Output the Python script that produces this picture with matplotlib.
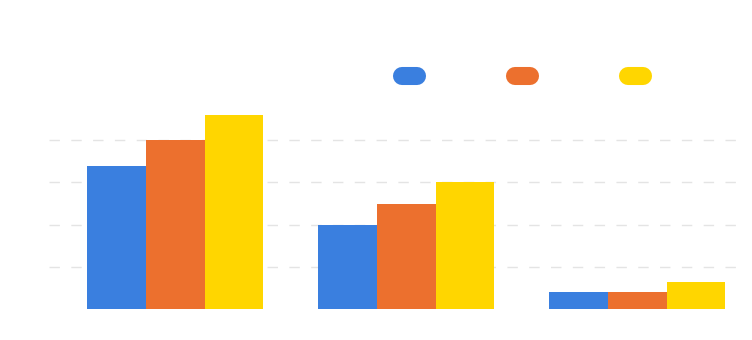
import matplotlib.pyplot as plt
from matplotlib.lines import Line2D
import numpy as np

# data
groups = ["A", "B", "C"]
series_names = ["Series 1", "Series 2", "Series 3"]
series_1 = [34, 20, 4]
series_2 = [40, 25, 4]
series_3 = [46, 30, 6.3]
colors = ["#3a7fdf", "#ec702e", "#ffd600"]
grid_values = [10, 20, 30, 40]

fig = plt.figure(figsize=(7.52, 3.40), dpi=100)
ax = fig.add_axes([49 / 752, 1 - 309 / 340, 692 / 752, 211 / 340])

x = np.arange(len(groups))
width = 0.255
for i, (vals, col) in enumerate(zip([series_1, series_2, series_3], colors)):
    ax.bar(x + (i - 1) * width, vals, width, color=col, zorder=3)

# groups sit a bit right of the grid area
ax.set_xlim(-0.546, 2.45)
ax.set_ylim(0, 50)

# dashed light grid lines
for g in grid_values:
    ax.axhline(g, color="#e4e4e4", lw=1.0, dashes=(7.5, 8.2), zorder=1)

for s in ax.spines.values():
    s.set_visible(False)
ax.set_xticks([])
ax.set_yticks([])

# pill shaped legend markers without visible text
handles = [Line2D([0], [0], color=c, lw=13, solid_capstyle="round") for c in colors]
fig.legend(handles, ["", "", ""], ncol=3, loc="center",
           bbox_to_anchor=(522.2 / 752, 1 - 77 / 340), frameon=False,
           handlelength=1.08, handletextpad=0, columnspacing=7.05)

fig.savefig("out.png", dpi=100)
